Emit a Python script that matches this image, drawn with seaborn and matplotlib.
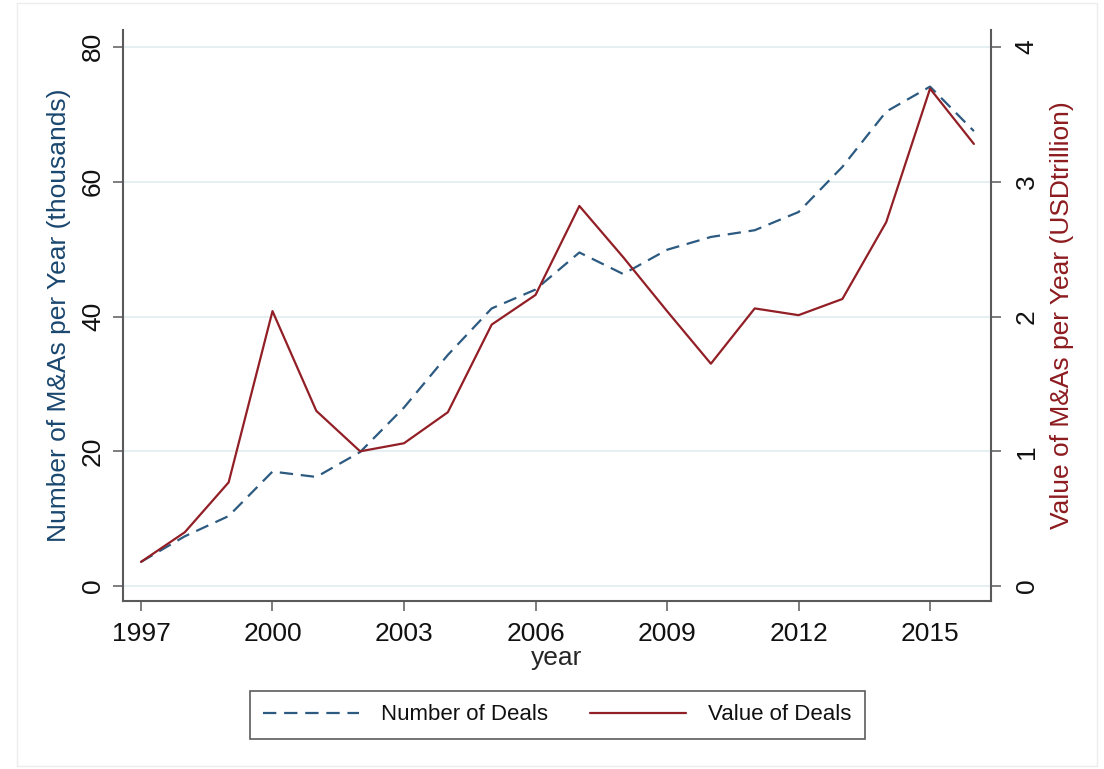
import matplotlib
matplotlib.use("Agg")
import matplotlib.pyplot as plt
import matplotlib.patches as patches
import seaborn as sns
import pandas as pd

# data
years = list(range(1997, 2017))
num_deals = [3.6, 7.4, 10.4, 17.0, 16.2, 19.9, 26.5, 34.3, 41.2, 44.0,
             49.5, 46.3, 49.9, 51.8, 52.8, 55.5, 62.2, 70.4, 74.1, 67.5]
value_deals = [0.18, 0.40, 0.77, 2.04, 1.30, 1.00, 1.06, 1.29, 1.94, 2.16,
               2.82, 2.44, 2.04, 1.65, 2.06, 2.01, 2.13, 2.70, 3.69, 3.28]
left_ticks = [0, 20, 40, 60, 80]
right_ticks = [0, 1, 2, 3, 4]
x_ticks = [1997, 2000, 2003, 2006, 2009, 2012, 2015]

df = pd.DataFrame({"year": years, "num": num_deals, "val": value_deals})

sns.set_style("white")
plt.rcParams["font.family"] = ["Liberation Sans", "DejaVu Sans"]
plt.rcParams["text.color"] = "#111111"
plt.rcParams["xtick.labelcolor"] = "#111111"
plt.rcParams["ytick.labelcolor"] = "#111111"

navy = "#2c5a80"
maroon = "#921f26"
spine_col = "#5a5a5a"
grid_col = "#e4eef1"

fig = plt.figure(figsize=(11.04, 7.69), dpi=100)
ax = fig.add_axes([123 / 1104, 1 - 601 / 769, (991 - 123) / 1104, (601 - 30) / 769])
ax2 = ax.twinx()

# make the two lines
sns.lineplot(data=df, x="year", y="num", ax=ax, color=navy, linewidth=1.6,
             dashes=False, label="Number of Deals", legend=False)
ax.lines[0].set_dashes((6, 3.5))
sns.lineplot(data=df, x="year", y="val", ax=ax2, color=maroon, linewidth=1.6,
             label="Value of Deals", legend=False)

# axis limits
ax.set_xlim(1996.59, 2016.39)
ax.set_ylim(-2.2, 82.5)
ax2.set_ylim(-2.2 / 20, 82.5 / 20)

ax.set_xticks(x_ticks)
ax.set_yticks(left_ticks)
ax2.set_yticks(right_ticks)

ax.grid(axis="y", color=grid_col, linewidth=1.3)
ax.set_axisbelow(True)
ax2.grid(False)

for a in (ax, ax2):
    a.spines["top"].set_visible(False)
    for s in ("left", "right", "bottom"):
        a.spines[s].set_color(spine_col)
        a.spines[s].set_linewidth(1.5)
ax.spines["right"].set_visible(False)
ax2.spines["left"].set_visible(False)
ax2.spines["bottom"].set_visible(False)

ax.tick_params(axis="x", direction="out", length=7, width=1.1, color=spine_col,
               labelsize=19, pad=8, bottom=True)
ax.tick_params(axis="y", direction="out", length=7, width=1.1, color=spine_col,
               labelsize=19, pad=6, left=True)
ax2.tick_params(axis="y", direction="out", length=7, width=1.1, color=spine_col,
                labelsize=19, pad=10, right=True)

for lab in ax.get_yticklabels():
    lab.set_rotation(90)
    lab.set_va("center")
for lab in ax2.get_yticklabels():
    lab.set_rotation(90)
    lab.set_va("center")

ax.set_xlabel("year", fontsize=19, labelpad=0)
ax.set_ylabel("Number of M&As per Year (thousands)", fontsize=19, color="#1a476f", labelpad=7)
ax2.set_ylabel("Value of M&As per Year (USDtrillion)", fontsize=19, color="#8c1b1f",
               labelpad=8, rotation=90)

# legend under the plot
handles = [ax.lines[0], ax2.lines[0]]
leg = fig.legend(handles, ["Number of Deals", "Value of Deals"], loc="center",
                 bbox_to_anchor=(557.5 / 1104, 1 - 715 / 769), ncol=2, fontsize=16,
                 frameon=True, fancybox=False, edgecolor="#333333", handlelength=4.3,
                 handletextpad=1.0, columnspacing=1.9, borderpad=0.6)
leg.get_frame().set_linewidth(1.2)

# faint outer frame like the original graph region
fig.patches.append(patches.Rectangle((17 / 1104, 3 / 769), 1080 / 1104, 763 / 769,
                                     transform=fig.transFigure, fill=False,
                                     edgecolor="#ececec", linewidth=1))

fig.savefig("out.png", dpi=100)
